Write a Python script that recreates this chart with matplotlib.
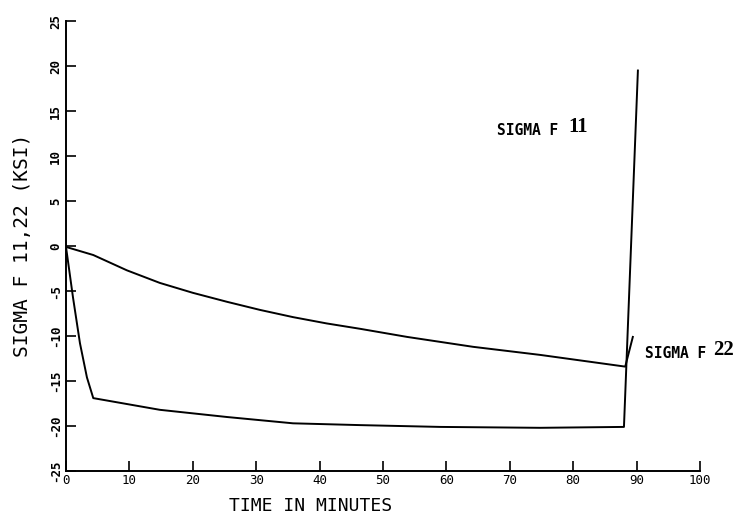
import matplotlib
matplotlib.use("Agg")
import matplotlib.pyplot as plt

# ------------------------
# data (time in minutes, stress in ksi)
# ------------------------
t_f11 = [0, 1.1, 2.2, 3.3, 4.3, 14.8, 25.4, 35.8, 46.4, 59, 74.8, 88, 90.2]
sigma_f11 = [-0.1, -5.7, -10.8, -14.6, -16.9, -18.2, -19.0, -19.7, -19.9, -20.1, -20.2, -20.1, 19.5]

t_f22 = [0, 4.3, 9.6, 14.8, 20, 25.4, 30.6, 35.8, 41.1, 46.4, 53.8, 64.2, 74.8, 88.2, 89.4]
sigma_f22 = [-0.1, -1.0, -2.7, -4.1, -5.2, -6.2, -7.1, -7.9, -8.6, -9.2, -10.1, -11.2, -12.1, -13.4, -10.1]

x_ticks = [0, 10, 20, 30, 40, 50, 60, 70, 80, 90, 100]
y_ticks = [-25, -20, -15, -10, -5, 0, 5, 10, 15, 20, 25]

mono = "DejaVu Sans Mono"

fig = plt.figure(figsize=(7.4, 5.23), dpi=100)
ax = fig.add_axes([0.0892, 0.0994, 0.8568, 0.8604])

ax.plot(t_f11, sigma_f11, color="black", lw=1.4)
ax.plot(t_f22, sigma_f22, color="black", lw=1.4)

ax.set_xlim(0, 100)
ax.set_ylim(-25, 25)
ax.set_xticks(x_ticks)
ax.set_yticks(y_ticks)
ax.set_xticklabels([str(v) for v in x_ticks], fontfamily=mono, fontsize=9)
ax.set_yticklabels([str(v) for v in y_ticks], fontfamily=mono, fontsize=9,
                   fontweight="bold", rotation=90, va="center")
ax.tick_params(direction="in", length=7, width=1.2, pad=3)
ax.tick_params(axis="x", pad=2)

ax.spines["top"].set_visible(False)
ax.spines["right"].set_visible(False)
ax.spines["left"].set_linewidth(1.4)
ax.spines["bottom"].set_linewidth(1.4)

# curve labels
ax.text(68, 12.8, "SIGMA F", fontfamily=mono, fontweight="bold", fontsize=10.5,
        va="center", ha="left")
ax.text(79.2, 13.2, "11", fontfamily="Liberation Serif", fontweight="bold",
        fontsize=15, va="center", ha="left")
ax.text(91.3, -11.9, "SIGMA F", fontfamily=mono, fontweight="bold", fontsize=10.5,
        va="center", ha="left", clip_on=False)
ax.text(102.0, -11.6, "22", fontfamily="Liberation Serif", fontweight="bold",
        fontsize=15, va="center", ha="left", clip_on=False)

# axis titles
fig.text(0.42, 0.032, "TIME IN MINUTES", fontfamily=mono, fontsize=13,
         ha="center", va="center")
fig.text(0.030, 0.53, "SIGMA F 11,22 (KSI)", fontfamily=mono, fontsize=14,
         rotation=90, ha="center", va="center")

fig.savefig("out.png", dpi=100)
